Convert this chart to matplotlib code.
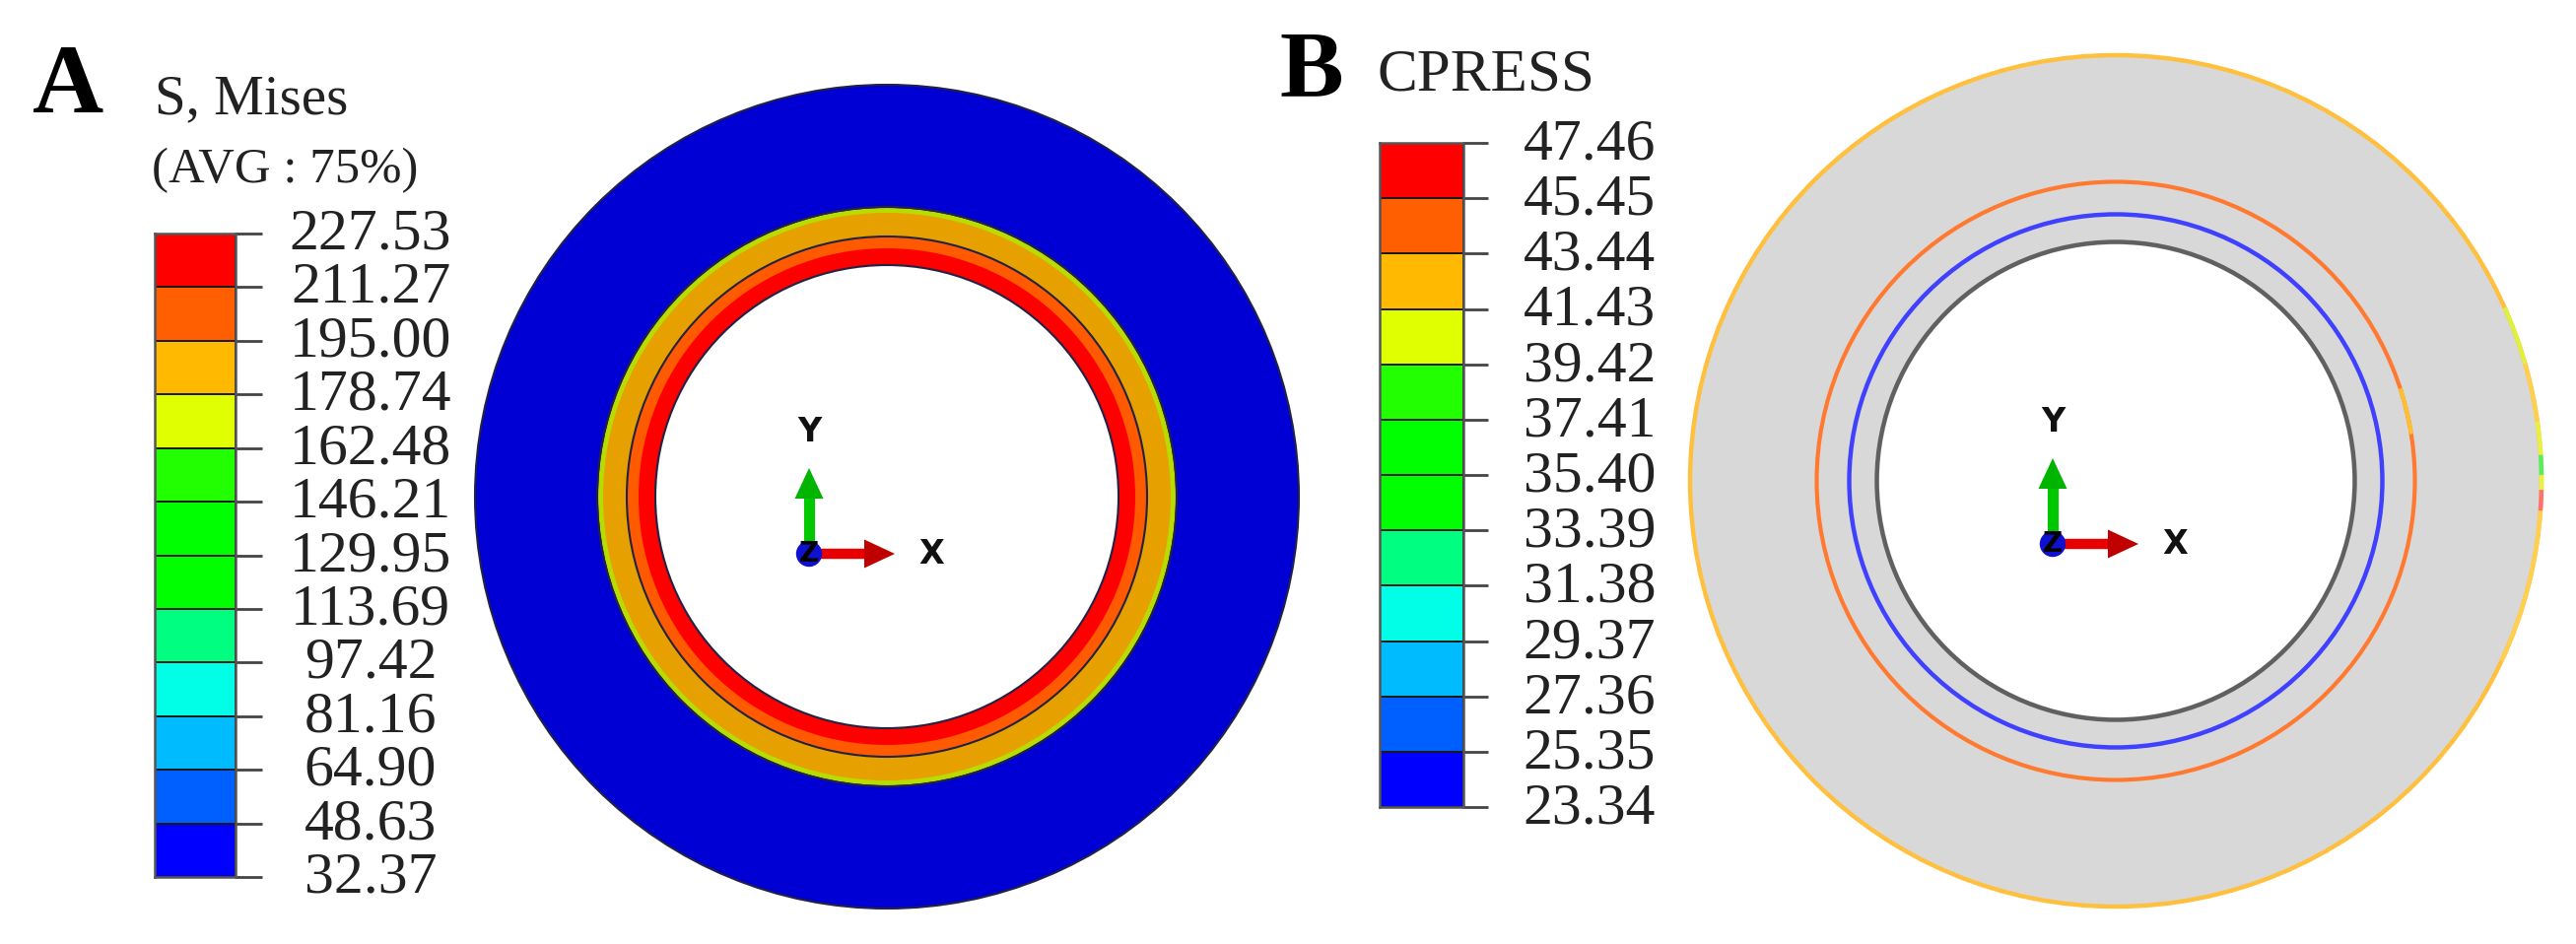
import matplotlib
matplotlib.use("Agg")
import matplotlib.pyplot as plt
from matplotlib.patches import Circle, Arc, FancyArrow
from matplotlib.transforms import ScaledTranslation

W, H = 2614, 958
DPI = 100

# ---------- data ----------
mises_levels = ["32.37", "48.63", "64.90", "81.16", "97.42", "113.69", "129.95",
                "146.21", "162.48", "178.74", "195.00", "211.27", "227.53"]
cpress_levels = ["23.34", "25.35", "27.36", "29.37", "31.38", "33.39", "35.40",
                 "37.41", "39.42", "41.43", "43.44", "45.45", "47.46"]
band_colors = ["#0000ff", "#0060ff", "#00bcff", "#00ffe6", "#00ff80", "#00ff00",
               "#00ff00", "#22ff00", "#e0ff00", "#ffb900", "#ff5f00", "#ff0000"]

# Panel A rings: outer radius (px) and fill colour, outermost first
a_radii = [418, 293, 288, 264, 252, 235]
a_colors = ["#0000d4", "#b8dc00", "#e6a000", "#ff5a00", "#ff0000", "#ffffff"]
a_line_radii = [418, 294, 264, 235]

# Panel B
b_outer_radius = 432
b_hole_radius = 240
b_grey = "#d8d8d8"
b_rim_base = "#ffc040"
b_rings = [(303.5, "#ff7a30", 3.0), (270.5, "#4040ff", 3.2), (242.5, "#606060", 3.2)]
# rim arcs: start angle, end angle, colour
b_rim = [(-25, -4, "#ffd050"), (-4, -1.2, "#ff7070"), (-1.2, 0.8, "#e8f040"),
         (0.8, 3.5, "#50f060"), (3.5, 8, "#e8f040"), (8, 16, "#ffd050"), (16, 24, "#e0f040")]
b_ring_patch = [(9, 18, "#ffc030")]


def px_axes(x0, y0, x1, y1, **kw):
    return fig.add_axes([x0 / W, 1 - y1 / H, (x1 - x0) / W, (y1 - y0) / H], **kw)


def colorbar(x0, x1, y0, y1, levels, tick_px, center_px, shift_px):
    ax = px_axes(x0, y0, x1, y1)
    ax.set_xlim(0, 1)
    ax.set_ylim(0, len(band_colors))
    for i, c in enumerate(band_colors):
        ax.bar(0.5, 1, width=1, bottom=i, color=c, edgecolor="#1a1a1a", linewidth=1.4)
    ax.set_xticks([])
    ax.set_yticks(range(len(levels)))
    ax.set_yticklabels(levels)
    ax.yaxis.tick_right()
    ax.tick_params(axis="y", length=tick_px * 72 / DPI, width=2.0, color="#444444",
                   pad=center_px * 72 / DPI, labelsize=43, labelcolor="#222222")
    off = ScaledTranslation(0, shift_px / DPI, fig.dpi_scale_trans)
    for lab in ax.get_yticklabels():
        lab.set_ha("center")
        lab.set_transform(lab.get_transform() + off)
    for s in ax.spines.values():
        s.set_color("#555555")
        s.set_linewidth(1.8)
    return ax


def disc_axes(cx, cy, r):
    ax = px_axes(cx - r, cy - r, cx + r, cy + r)
    ax.set_xlim(-r, r)
    ax.set_ylim(-r, r)
    ax.axis("off")
    return ax


def triad(ax, ox, oy, y_tip=87, x_tip=87):
    ax.plot([ox, ox], [oy, oy + y_tip - 30], color="#00c800", lw=8, solid_capstyle="butt", zorder=20)
    ax.add_patch(FancyArrow(ox, oy + y_tip - 31, 0, 31, width=0, head_width=29, head_length=31,
                            length_includes_head=True, color="#00b400", lw=0, zorder=21))
    ax.plot([ox + 12, ox + x_tip - 30], [oy, oy], color="#e80000", lw=7.5, solid_capstyle="butt", zorder=20)
    ax.add_patch(FancyArrow(ox + x_tip - 31, oy, 31, 0, width=0, head_width=29, head_length=31,
                            length_includes_head=True, color="#c00000", lw=0, zorder=21))
    ax.add_patch(Circle((ox, oy), 12.5, color="#1010d0", zorder=22))
    ax.text(ox, oy, "Z", ha="center", va="center", fontsize=20, fontweight="bold",
            family="DejaVu Sans", color="black", zorder=23)
    ax.text(ox, oy + 123, "Y", ha="center", va="center", fontsize=24, fontweight="bold",
            family="DejaVu Sans", color="#111111", zorder=23)
    ax.text(ox + 124, oy, "X", ha="center", va="center", fontsize=24, fontweight="bold",
            family="DejaVu Sans", color="#111111", zorder=23)


plt.rcParams["font.family"] = ["Liberation Serif", "DejaVu Serif"]
fig = plt.figure(figsize=(W / DPI, H / DPI), dpi=DPI, facecolor="white")

# Panel labels and legend titles
fig.text(33 / W, 1 - 114 / H, "A", fontsize=72, fontweight="bold", color="black")
fig.text(1298 / W, 1 - 98 / H, "B", fontsize=70, fontweight="bold", color="black")
fig.text(157 / W, 1 - 115 / H, "S, Mises", fontsize=41, color="#222222")
fig.text(154 / W, 1 - 185 / H, "(AVG : 75%)", fontsize=36.5, color="#222222")
fig.text(1397 / W, 1 - 92 / H, "CPRESS", fontsize=44, color="#222222")

# Colour bars
colorbar(157, 239, 237, 890, mises_levels, 27, 110, 5)
colorbar(1400, 1485, 145, 819, cpress_levels, 25, 103, 4)

# Panel A disc
ax_a = disc_axes(900, 504, 423)
for r, c in zip(a_radii, a_colors):
    ax_a.add_patch(Circle((0, 0), r, facecolor=c, edgecolor="none"))
for r in a_line_radii:
    ax_a.add_patch(Circle((0, 0), r, facecolor="none", edgecolor="#222244", lw=1.5))
triad(ax_a, -79, -58)

# Panel B disc
ax_b = disc_axes(2147, 488, 438)
ax_b.add_patch(Circle((0, 0), b_outer_radius, facecolor=b_grey, edgecolor=b_rim_base, lw=3.2))
ax_b.add_patch(Circle((0, 0), b_hole_radius, facecolor="white", edgecolor="none"))
for r, c, lw in b_rings:
    ax_b.add_patch(Circle((0, 0), r, facecolor="none", edgecolor=c, lw=lw))
for t0, t1, c in b_ring_patch:
    ax_b.add_patch(Arc((0, 0), 2 * b_rings[0][0], 2 * b_rings[0][0], theta1=t0, theta2=t1, color=c, lw=3.0))
for t0, t1, c in b_rim:
    ax_b.add_patch(Arc((0, 0), 2 * b_outer_radius, 2 * b_outer_radius, theta1=t0, theta2=t1, color=c, lw=3.2))
triad(ax_b, -64, -64)

fig.savefig("out.png", dpi=DPI, facecolor="white")
